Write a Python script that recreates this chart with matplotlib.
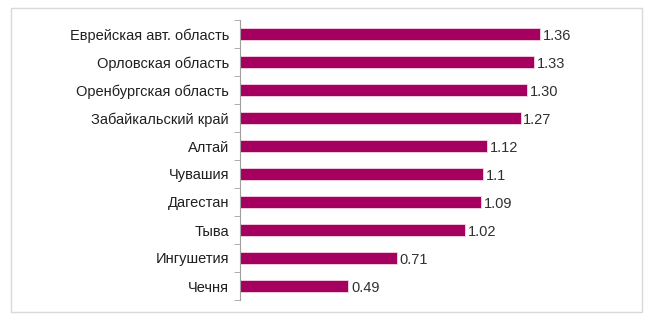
import matplotlib

matplotlib.use("Agg")
import matplotlib.pyplot as plt
from matplotlib.patches import Rectangle
import numpy as np

regions = ["Еврейская авт. область", "Орловская область", "Оренбургская область",
           "Забайкальский край", "Алтай", "Чувашия", "Дагестан", "Тыва",
           "Ингушетия", "Чечня"]
values = [1.36, 1.33, 1.30, 1.27, 1.12, 1.10, 1.09, 1.02, 0.71, 0.49]
value_labels = ["1.36", "1.33", "1.30", "1.27", "1.12", "1.1", "1.09", "1.02", "0.71", "0.49"]

plt.rcParams["font.family"] = ["Liberation Sans", "DejaVu Sans"]

fig = plt.figure(figsize=(6.5, 3.24), dpi=100)
fig.patches.append(Rectangle((11 / 650, 1 - 312 / 324), 631 / 650, 304 / 324,
                             transform=fig.transFigure, fill=False,
                             edgecolor="#d9d9d9", lw=1))

ax = fig.add_axes([240 / 650, 1 - 300 / 324, 380 / 650, 280 / 324])
n = len(regions)
y = np.arange(n)
ax.barh(y, values, height=0.43, color="#a50060", edgecolor="#f4d6e4", lw=0.6)
for yi, v, lab in zip(y, values, value_labels):
    ax.text(v + 0.012, yi, lab, va="center_baseline", ha="left",
            fontsize=10.5, color="#303030")

ax.set_ylim(n - 0.5, -0.5)
ax.set_xlim(0, 1.72)
ax.set_yticks(y)
ax.set_yticklabels(regions, fontsize=10.5, color="#202020", va="center_baseline")
ax.tick_params(axis="y", which="major", length=0, pad=8)
ax.set_yticks(np.arange(-0.5, n), minor=True)
ax.tick_params(axis="y", which="minor", length=4, color="#a0a0a0", direction="out")
ax.set_xticks([])
for side in ["top", "right", "bottom"]:
    ax.spines[side].set_visible(False)
ax.spines["left"].set_color("#a0a0a0")
ax.spines["left"].set_linewidth(0.8)

fig.savefig("out.png", dpi=100)
